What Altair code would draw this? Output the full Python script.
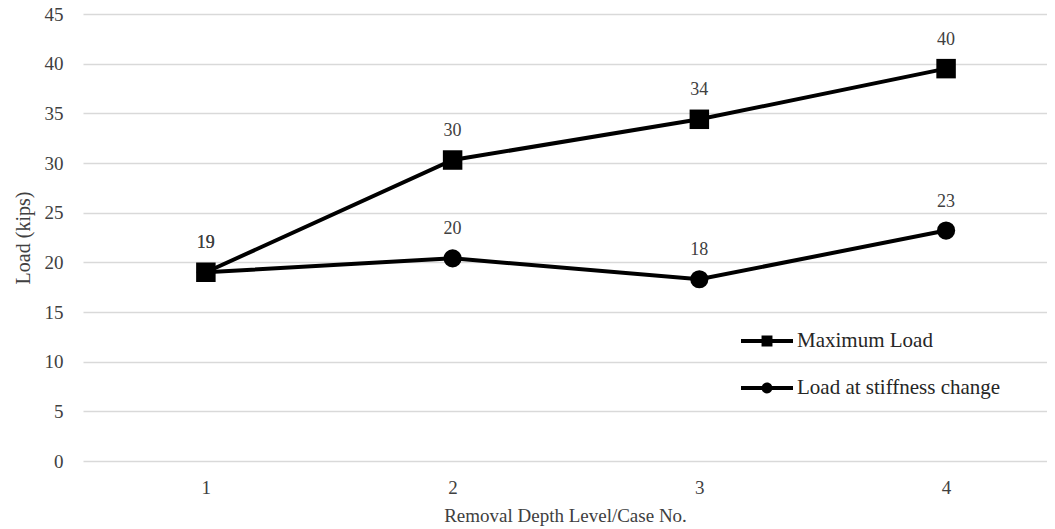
import altair as alt
import pandas as pd

cases = [1, 2, 3, 4]
max_load = [19.0, 30.3, 34.4, 39.5]
stiff_load = [19.0, 20.4, 18.3, 23.2]
max_labels = ["19", "30", "34", "40"]
stiff_labels = ["19", "20", "18", "23"]
series_names = ["Maximum Load", "Load at stiffness change"]
y_ticks = [0, 5, 10, 15, 20, 25, 30, 35, 40, 45]

rows = []
for c, v, l in zip(cases, max_load, max_labels):
    rows.append({"case": c, "load": v, "label": l, "series": series_names[0]})
for c, v, l in zip(cases, stiff_load, stiff_labels):
    rows.append({"case": c, "load": v, "label": l, "series": series_names[1]})
df = pd.DataFrame(rows)

FONT = "Times New Roman, Liberation Serif, serif"

sq_path = "M-1,-0.08H1V0.08H-1Z M-0.21,-0.21H0.21V0.21H-0.21Z"
ci_path = "M-1,-0.08H1V0.08H-1Z M-0.21,0A0.21,0.21 0 1,1 0.21,0A0.21,0.21 0 1,1 -0.21,0Z"

x_enc = alt.X(
    "case:Q",
    scale=alt.Scale(domain=[0.502, 4.409], nice=False, zero=False),
    axis=alt.Axis(values=cases, format="d", title="Removal Depth Level/Case No.",
                  grid=False, domain=False, ticks=False, labelPadding=17,
                  titlePadding=9, labelFont=FONT, labelFontSize=19,
                  labelColor="#404040", titleFont=FONT, titleFontSize=19,
                  titleFontWeight="normal", titleColor="#404040"),
)
y_enc = alt.Y(
    "load:Q",
    scale=alt.Scale(domain=[0, 45], nice=False),
    axis=alt.Axis(values=y_ticks, title="Load (kips)", domain=False, ticks=False,
                  labelPadding=20, titlePadding=11, gridColor="#d9d9d9",
                  gridWidth=1.5, labelFont=FONT, labelFontSize=19,
                  labelColor="#404040", titleFont=FONT, titleFontSize=20,
                  titleFontWeight="normal", titleColor="#404040"),
)

base = alt.Chart(df)

lines = base.mark_line(color="black", strokeWidth=4).encode(
    x=x_enc, y=y_enc, detail="series:N"
)

points = base.mark_point(filled=True, color="black", opacity=1).encode(
    x=x_enc, y=y_enc,
    shape=alt.Shape("series:N", scale=alt.Scale(domain=series_names, range=["square", "circle"]), legend=None),
    size=alt.Size("series:N", scale=alt.Scale(domain=series_names, range=[380, 330]), legend=None),
)

labels = base.mark_text(dy=-29, font=FONT, fontSize=18, color="#404040").encode(
    x=x_enc, y=y_enc, text="label:N"
)

legend_layer = base.mark_point(filled=True, color="black", opacity=0).encode(
    x=x_enc, y=y_enc,
    shape=alt.Shape(
        "series:N",
        scale=alt.Scale(domain=series_names, range=[sq_path, ci_path]),
        legend=alt.Legend(
            orient="none", legendX=658, legendY=301, title=None,
            labelFont=FONT, labelFontSize=21, labelColor="#262626",
            labelLimit=400,
            symbolSize=2704, symbolFillColor="black", symbolStrokeWidth=0,
            symbolOpacity=1, rowPadding=11, labelOffset=4,
        ),
    ),
)

chart = (
    alt.layer(lines, points, labels, legend_layer)
    .resolve_scale(shape="independent", size="independent")
    .properties(
        width=964, height=447,
        autosize=alt.AutoSizeParams(type="none"),
        padding={"left": 75, "top": 6, "right": 0, "bottom": 68},
        background="white",
    )
    .configure_view(stroke=None)
)

chart.save("out.html", embed_options={"renderer": "svg", "actions": False})
